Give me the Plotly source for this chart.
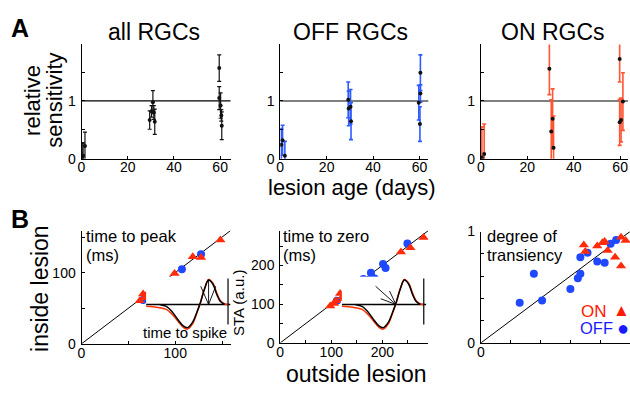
import plotly.graph_objects as go

FONT = "Liberation Sans, Arial, Helvetica, sans-serif"
W, H = 630, 395

# ---------------- Panel A data (lesion age in days, relative sensitivity, error) -------------
all_day = [0.3, 0.7, 1.5, 29.5, 30.3, 30.9, 31.3, 31.7, 59.6, 59.6, 60.2, 60.5, 60.7]
all_sens = [0.03, 0.05, 0.22, 0.67, 0.82, 0.98, 0.80, 0.64, 1.57, 1.05, 0.92, 0.75, 0.57]
all_err = [0.25, 0.22, 0.24, 0.16, 0.10, 0.20, 0.12, 0.22, 0.23, 0.20, 0.22, 0.10, 0.24]

off_day = [0.5, 1.0, 2.0, 29.3, 29.5, 30.3, 30.5, 59.7, 60.2, 60.4, 60.4]
off_sens = [0.24, 0.32, 0.05, 1.02, 0.87, 0.90, 0.65, 0.97, 0.60, 1.13, 1.49]
off_err = [0.28, 0.26, 0.25, 0.31, 0.30, 0.30, 0.32, 0.30, 0.30, 0.15, 0.31]

on_day = [0.4, 1.4, 29.5, 30.3, 30.9, 31.3, 59.8, 59.8, 60.4, 61.2]
on_sens = [0.02, 0.08, 1.56, 0.47, 0.69, 0.19, 1.73, 0.63, 0.67, 0.99]
on_err = [0.53, 0.52, 0.45, 0.55, 0.52, 0.55, 0.40, 0.40, 0.38, 0.50]

# ---------------- Panel B data (outside vs inside lesion) ----------------
peak_off_out = [65.7, 67.5, 68.9, 71.0, 80.6, 88.0, 107.1, 127.5]
peak_off_in = [61.6, 62.9, 66.0, 68.3, 80.8, 79.5, 104.7, 125.7]
peak_on_out = [62.2, 65.7, 67.5, 72.8, 78.1, 79.8, 79.8, 99.3, 118.7, 127.5, 148.1]
peak_on_in = [60.6, 70.0, 64.7, 74.1, 80.8, 76.4, 83.1, 98.7, 122.2, 121.2, 145.9]

zero_off_out = [110.9, 130.4, 140.1, 145.4, 162.9, 177.7, 179.0, 184.9, 201.4, 206.3, 249.1]
zero_off_in = [109.1, 121.5, 141.3, 136.3, 164.9, 181.0, 171.1, 166.1, 204.0, 193.4, 256.6]
zero_on_out = [97.9, 105.1, 109.0, 117.3, 122.0, 124.5, 150.8, 236.4, 254.9, 280.8]
zero_on_in = [94.9, 101.6, 109.1, 127.7, 119.0, 114.0, 150.0, 234.8, 245.4, 271.9]

trans_off_out = [0.26, 0.355, 0.41, 0.60, 0.65, 0.667, 0.667, 0.715, 0.78, 0.83, 0.87, 0.907]
trans_off_in = [0.36, 0.62, 0.38, 0.485, 0.58, 0.62, 0.77, 0.81, 0.73, 0.72, 0.89, 0.925]
trans_on_out = [0.69, 0.70, 0.78, 0.815, 0.83, 0.85, 0.90, 0.94, 0.94, 0.97]
trans_on_in = [0.88, 0.82, 0.87, 0.90, 0.91, 0.83, 0.77, 0.69, 0.95, 0.92]

# ---------------- Inset schematic (STA waveform, normalised units) ----------------
sta_black_t = [0.16, 0.24, 0.31, 0.38, 0.44, 0.49, 0.55, 0.60, 0.645, 0.69, 0.74, 0.79, 0.835, 0.88, 0.93]
sta_black_a = [0.0, -0.08, -0.30, -0.62, -0.86, -0.93, -0.72, -0.32, 0.10, 0.60, 0.98, 0.82, 0.42, 0.12, 0.0]
sta_red_t = [0.0, 0.08, 0.16, 0.24, 0.31, 0.38, 0.44, 0.49, 0.55, 0.60, 0.645, 0.69, 0.74, 0.79, 0.835, 0.88, 0.93, 0.97]
sta_red_a = [-0.07, -0.09, -0.13, -0.20, -0.40, -0.68, -0.92, -0.99, -0.78, -0.35, 0.08, 0.62, 1.0, 0.86, 0.48, 0.15, 0.02, 0.0]
base_t = [0.0, 1.0]
base_a = [0.0, 0.0]
bar_t = [0.97, 0.97]
bar_a = [1.04, -0.80]
peak_mark_t = [0.647, 0.74, 0.824, None, 0.74, 0.74]
peak_mark_a = [0.73, 0.0, 0.73, None, 0.0, 0.98]
zero_arrow_t = [0.40, 0.64, None, 0.46, 0.64, 0.565]
zero_arrow_a = [0.73, 0.0, None, 0.23, 0.0, 0.54]

BLUE = "#1f48ff"
RED = "#ff2b0a"
BLUE_BAR = "#2f5bff"
RED_BAR = "#ff5533"


def px_x(p):
    return p / W


def px_y(p):
    return 1 - p / H


fig = go.Figure()


def axname(n, kind):
    return kind if n == 1 else f"{kind}{n}"


def set_axes(n, x0, x1, y0, y1, xr, yr, xt, xtt, yt, ytt, visible=True):
    common = dict(showline=True, linecolor="black", linewidth=1, ticks="inside",
                  ticklen=3, tickwidth=1, tickcolor="black", showgrid=False,
                  zeroline=False, fixedrange=True,
                  tickfont=dict(size=14, color="black", family=FONT))
    xa = dict(domain=[px_x(x0), px_x(x1)], range=xr, anchor=axname(n, "y"),
              tickvals=xt, ticktext=xtt, ticklabelstandoff=-4, **common)
    ya = dict(domain=[px_y(y1), px_y(y0)], range=yr, anchor=axname(n, "x"),
              tickvals=yt, ticktext=ytt, ticklabelstandoff=2, **common)
    if not visible:
        xa = dict(domain=[px_x(x0), px_x(x1)], range=xr, anchor=axname(n, "y"), visible=False, fixedrange=True)
        ya = dict(domain=[px_y(y1), px_y(y0)], range=yr, anchor=axname(n, "x"), visible=False, fixedrange=True)
    key = "" if n == 1 else str(n)
    fig.update_layout(**{f"xaxis{key}": xa, f"yaxis{key}": ya})


a_yt = [0, 0.5, 1, 1.5]
a_ytt = ["0", "", "1", ""]
a_xt = [0, 20, 40, 60]
a_xtt = ["0", "20", "40", "60"]
set_axes(1, 78, 228, 38, 157, [0, 64.5], [0, 1.98], a_xt, a_xtt, a_yt, a_ytt)
set_axes(2, 278, 427, 38, 157, [0, 63.8], [0, 1.98], a_xt, a_xtt, a_yt, a_ytt)
set_axes(3, 480, 628, 38, 157, [0, 63.4], [0, 1.98], a_xt, a_xtt, a_yt, a_ytt)

R1, R2 = 159, 290
set_axes(4, 78, 228, 232, 350, [0, R1], [0, R1], [0, 50, 100, 150], ["0", "", "100", ""],
         [0, 50, 100, 150], ["0", "", "100", ""])
set_axes(5, 278, 427, 232, 349, [0, R2], [0, R2], [0, 50, 100, 150, 200, 250],
         ["0", "", "100", "", "200", ""], [0, 50, 100, 150, 200, 250], ["0", "", "100", "", "200", ""])
set_axes(6, 480, 630, 233, 349, [0, 1], [0, 1], [0, 0.2, 0.4, 0.6, 0.8, 1],
         ["0", "", "", "", "", "1"], [0, 0.2, 0.4, 0.6, 0.8, 1], ["0", "", "", "", "", "1"])
# inset axes
set_axes(7, 143, 228, 280, 336, [0, 1], [-1.04, 1.115], None, None, None, None, visible=False)
set_axes(8, 340, 425, 280, 336, [0, 1], [-1.04, 1.115], None, None, None, None, visible=False)

# reference lines in A
for n, col, w in [(1, "black", 1.2), (2, "#555555", 1.6), (3, "#555555", 1.6)]:
    fig.add_shape(type="line", xref=f"{axname(n, 'x')} domain", x0=0, x1=1,
                  yref=axname(n, "y"), y0=1, y1=1, line=dict(color=col, width=w), layer="below")

# diagonal unity lines in B
for n, r in [(4, R1), (5, R2), (6, 1)]:
    fig.add_shape(type="line", xref=axname(n, "x"), yref=axname(n, "y"), x0=0, y0=0, x1=r, y1=r,
                  line=dict(color="black", width=1), layer="below")


def err_trace(xs, ys, es, n, barcol, thick):
    fig.add_trace(go.Scatter(
        x=xs, y=ys, mode="markers", xaxis=axname(n, "x"), yaxis=axname(n, "y"),
        marker=dict(size=4, color="#111111"),
        error_y=dict(type="data", array=es, symmetric=True, color=barcol, thickness=thick, width=2),
        showlegend=False, hoverinfo="skip"))


err_trace(all_day, all_sens, all_err, 1, "#111111", 1.2)
err_trace(off_day, off_sens, off_err, 2, BLUE_BAR, 1.6)
err_trace(on_day, on_sens, on_err, 3, RED_BAR, 1.6)


def scat(xs, ys, n, col, sym, size):
    fig.add_trace(go.Scatter(x=xs, y=ys, mode="markers", xaxis=axname(n, "x"), yaxis=axname(n, "y"),
                             marker=dict(size=size, color=col, symbol=sym, line=dict(width=0)),
                             showlegend=False, hoverinfo="skip"))


scat(peak_off_out, peak_off_in, 4, BLUE, "circle", 8)
scat(peak_on_out, peak_on_in, 4, RED, "triangle-up", 9)
scat(zero_off_out, zero_off_in, 5, BLUE, "circle", 8)
scat(zero_on_out, zero_on_in, 5, RED, "triangle-up", 9)
scat(trans_off_out, trans_off_in, 6, BLUE, "circle", 8)
scat(trans_on_out, trans_on_in, 6, RED, "triangle-up", 9)


def line(xs, ys, n, col, w, shape="linear"):
    fig.add_trace(go.Scatter(x=xs, y=ys, mode="lines", xaxis=axname(n, "x"), yaxis=axname(n, "y"),
                             line=dict(color=col, width=w, shape=shape), connectgaps=False,
                             showlegend=False, hoverinfo="skip"))


for n, marks in [(7, (peak_mark_t, peak_mark_a)), (8, (zero_arrow_t, zero_arrow_a))]:
    line(base_t, base_a, n, "black", 1.5)
    line(sta_red_t, sta_red_a, n, "#ff3300", 1.5, "spline")
    line(sta_black_t, sta_black_a, n, "black", 1.5, "spline")
    line(bar_t, bar_a, n, "black", 1.2)
    line(marks[0], marks[1], n, "black", 0.9)

# ---------------- text ----------------
def text(s, x, y, size, color="black", xanchor="center", yanchor="middle", angle=0, bold=False):
    if bold:
        s = f"<b>{s}</b>"
    fig.add_annotation(text=s, x=px_x(x), y=px_y(y), xref="paper", yref="paper",
                       showarrow=False, xanchor=xanchor, yanchor=yanchor, textangle=angle,
                       font=dict(size=size, color=color, family=FONT), borderpad=0)


text("A", 6, 21, 25, xanchor="left", bold=True)
text("B", 6, 220, 25, xanchor="left", bold=True)
text("all RGCs", 151, 25, 23)
text("OFF RGCs", 349, 25, 23)
text("ON RGCs", 553, 25, 23)
text("relative", 28, 96, 22, angle=-90)
text("sensitivity", 50, 96, 22, angle=-90)
text("lesion age (days)", 350, 187, 22)
text("inside lesion", 36, 292, 23, angle=-90)
text("outside lesion", 355, 381, 23)
text("time to peak", 82, 238, 16.5, xanchor="left")
text("(ms)", 82, 257, 16.5, xanchor="left")
text("time to zero", 280, 238, 16.5, xanchor="left")
text("(ms)", 280, 257, 16.5, xanchor="left")
text("degree of", 485, 238, 16.5, xanchor="left")
text("transiency", 485, 257, 16.5, xanchor="left")
text("time to spike", 182, 338, 15)
text("STA (a.u.)", 236, 308, 15, angle=-90)
text("ON", 580, 316, 17, color="#ff1a00", xanchor="left")
text("▲", 621, 315, 17, color="#ff1a00")
text("OFF", 579, 334, 16.5, color="#1a1aff", xanchor="left")
text("●", 623, 334, 20, color="#1a1aff")

fig.update_layout(width=W, height=H, margin=dict(l=0, r=0, t=0, b=0),
                  paper_bgcolor="white", plot_bgcolor="white", showlegend=False,
                  font=dict(family=FONT, color="black"))

fig.write_html("out.html", config={"displayModeBar": False},
               post_script="document.body.style.margin='0';document.body.style.padding='0';"
                           "document.documentElement.style.overflow='hidden';")
